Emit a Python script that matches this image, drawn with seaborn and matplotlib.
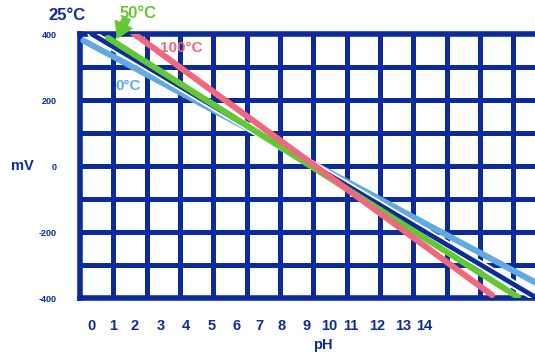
import matplotlib
matplotlib.use("Agg")
import matplotlib.pyplot as plt
import matplotlib.patheffects as pe
import numpy as np
import pandas as pd
import seaborn as sns

# ---- data ----
series_names = ["0°C", "25°C", "50°C", "100°C"]
ph_0c = [0.1, 13.7]
mv_0c = [380, -355]
ph_25c = [0.35, 13.65]
mv_25c = [400, -397]
ph_50c = [0.84, 13.14]
mv_50c = [388, -397]
ph_100c = [1.59, 12.36]
mv_100c = [403, -391]

y_tick_values = [-400, -200, 0, 200, 400]
x_tick_labels = ["0", "1", "2", "3", "4", "5", "6", "7", "8", "9", "10", "11", "12", "13", "14"]

# ---- style ----
NAVY = "#0b2a9c"
LBLUE = "#62a8e2"
GREEN = "#62c935"
PINK = "#f0687c"
colors = {"0°C": LBLUE, "25°C": NAVY, "50°C": GREEN, "100°C": PINK}
zorders = {"0°C": 3, "25°C": 4, "50°C": 5, "100°C": 6}

sns.set_theme(style="white")
plt.rcParams["font.family"] = ["Liberation Sans Narrow", "Liberation Sans", "DejaVu Sans"]
plt.rcParams["font.weight"] = "bold"

W, H = 535, 353
fig = plt.figure(figsize=(W / 100, H / 100), dpi=100)
ax = fig.add_axes([80 / W, 1 - 298 / H, (535 - 80) / W, (298 - 34) / H])

df = pd.concat([
    pd.DataFrame({"pH": ph_0c, "mV": mv_0c, "T": "0°C"}),
    pd.DataFrame({"pH": ph_25c, "mV": mv_25c, "T": "25°C"}),
    pd.DataFrame({"pH": ph_50c, "mV": mv_50c, "T": "50°C"}),
    pd.DataFrame({"pH": ph_100c, "mV": mv_100c, "T": "100°C"}),
], ignore_index=True)

ax.set_xlim(0, 13.65)
ax.set_ylim(-400, 400)

# grid (cells of 1 pH x 100 mV)
ax.grid(False)
for gx in np.arange(1, 14, 1):
    ax.axvline(gx, color=NAVY, linewidth=3.6, zorder=1)
for gy in np.arange(-300, 400, 100):
    ax.axhline(gy, color=NAVY, linewidth=3.6, zorder=1)
for s in ["left", "top", "bottom"]:
    ax.spines[s].set_color(NAVY)
    ax.spines[s].set_linewidth(4.0)
ax.spines["right"].set_visible(False)

# lines
for name in series_names:
    sub = df[df["T"] == name]
    sns.lineplot(data=sub, x="pH", y="mV", color=colors[name], linewidth=4.4,
                 ax=ax, legend=False, sort=False)
    ln = ax.lines[-1]
    ln.set_zorder(zorders[name])
    if name == "25°C":
        ln.set_linewidth(3.4)
        ln.set_path_effects([pe.Stroke(linewidth=6.0, foreground="white"), pe.Normal()])

# ticks
ax.set_yticks(y_tick_values)
ax.set_yticklabels([str(v) for v in y_tick_values], fontsize=6.5, color=NAVY, fontweight="bold")
x_tick_pos = [0.33, 0.99, 1.65, 2.43, 3.18, 3.96, 4.71, 5.37, 6.06, 6.81, 7.47, 8.13, 8.91, 9.69, 10.32]
ax.set_xticks(x_tick_pos)
ax.set_xticklabels(x_tick_labels, fontsize=10.5, color=NAVY, fontweight="bold")
ax.tick_params(axis="both", which="both", length=0)
ax.tick_params(axis="y", pad=17)
ax.tick_params(axis="x", pad=15)
ax.set_xlabel("")
ax.set_ylabel("")


def ftext(x, y, s, **kw):
    fig.text(x / W, 1 - y / H, s, ha="center", va="center", fontweight="bold", **kw)


ftext(323, 345, "pH", fontsize=10.5, color=NAVY)
ftext(22, 166, "mV", fontsize=10.5, color=NAVY)
ftext(67, 16, "25°C", fontsize=12, color=NAVY)
ftext(138, 14, "50°C", fontsize=12, color=GREEN)
ftext(181, 48, "100°C", fontsize=11, color=PINK)
ftext(128, 86, "0°C", fontsize=11, color=LBLUE)

ax.annotate("", xy=(1.12, 388), xytext=(1.4, 448), xycoords="data", textcoords="data",
            annotation_clip=False,
            arrowprops=dict(arrowstyle="simple,head_width=1.1,head_length=0.9,tail_width=0.45",
                            color=GREEN, shrinkA=0, shrinkB=0), zorder=10)

fig.savefig("out.png", dpi=100)
